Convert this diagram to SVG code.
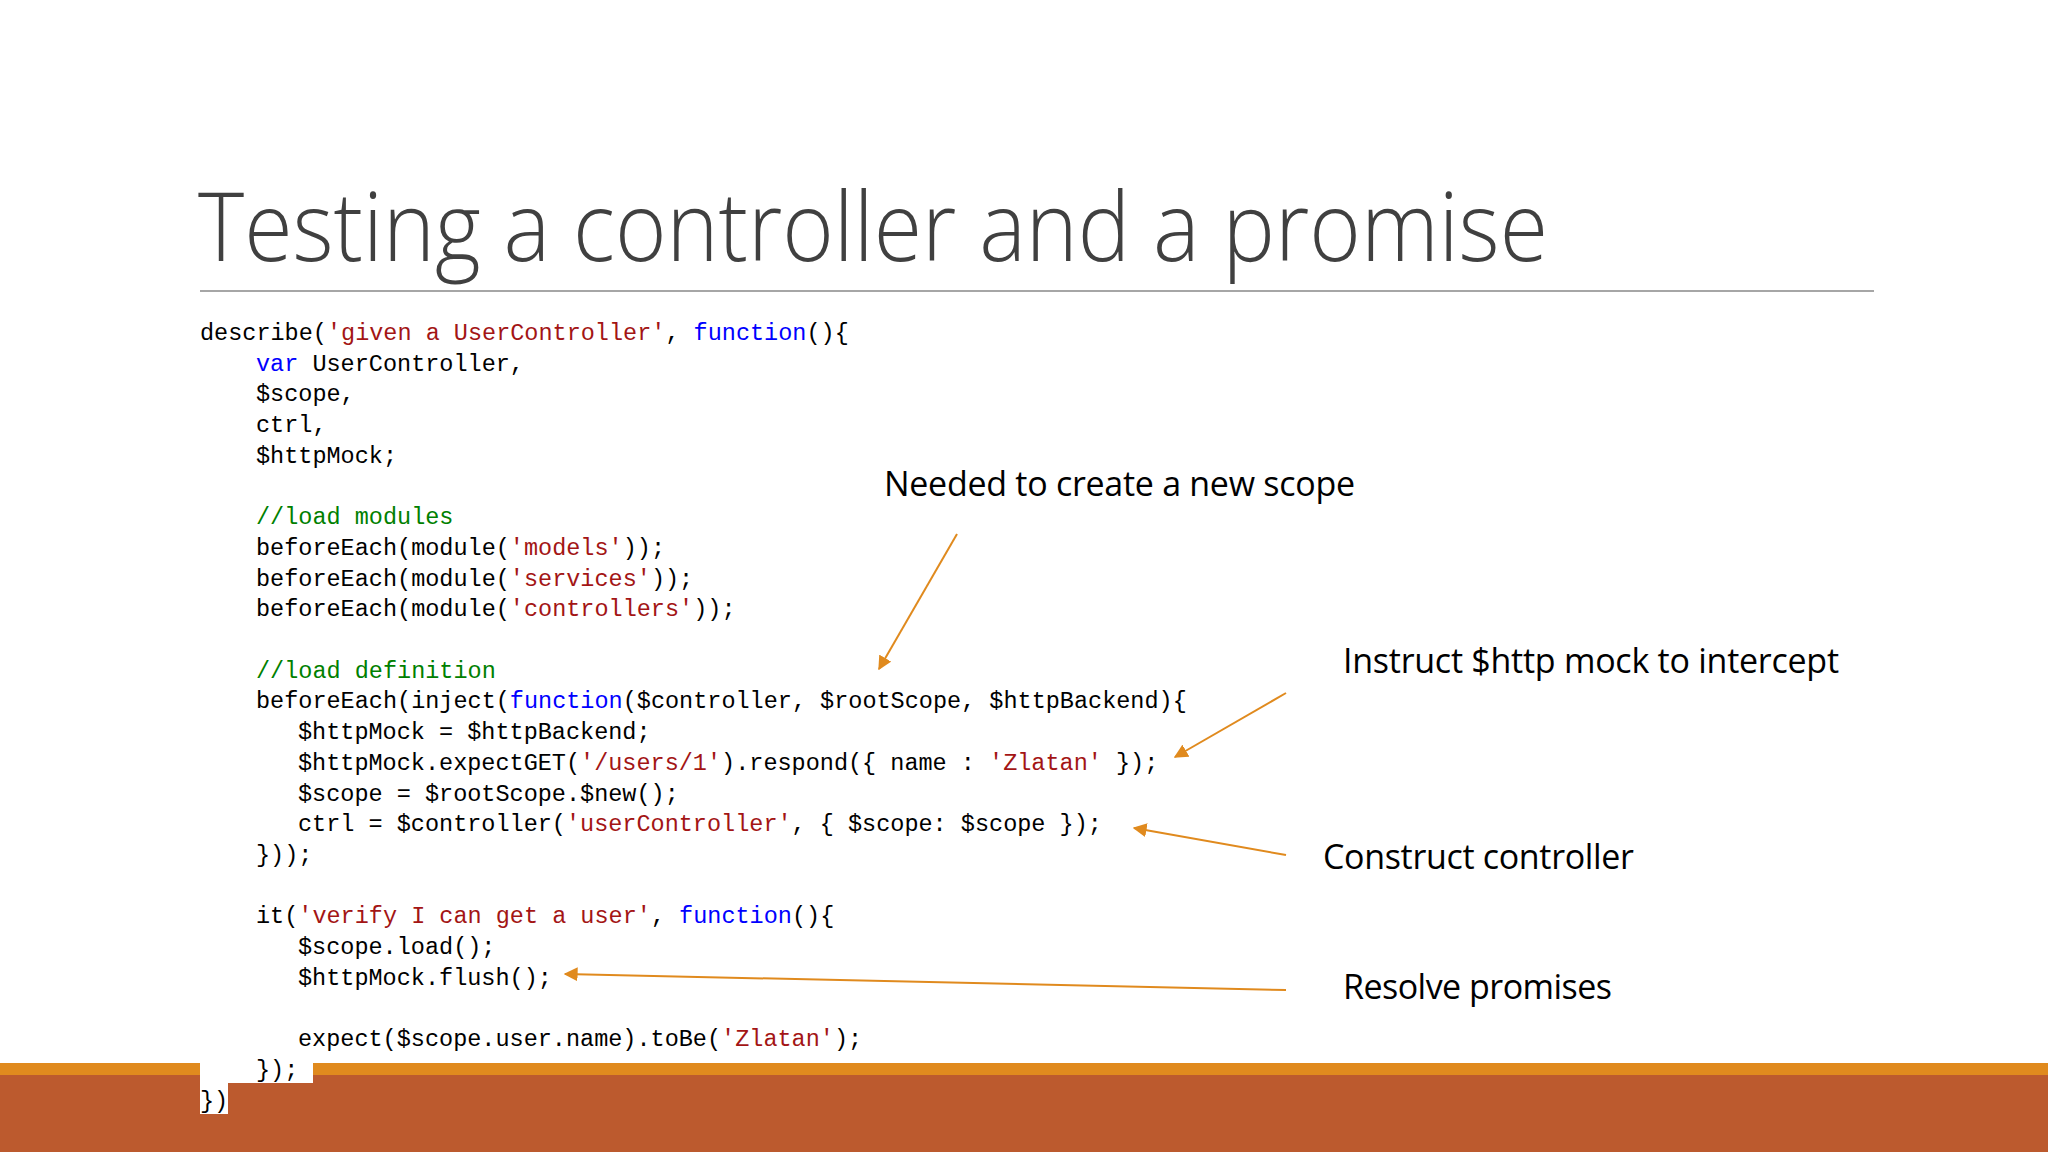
<svg xmlns="http://www.w3.org/2000/svg" width="2048" height="1152" viewBox="0 0 2048 1152">
<defs>
<style>
.c{font-family:"Liberation Mono","DejaVu Sans Mono",monospace;font-size:23.5px;fill:#000;white-space:pre}
.s{fill:#A31515}.k{fill:#0000FF}.g{fill:#008000}
.a{font-family:"Open Sans","Liberation Sans",sans-serif;font-size:34px;fill:#000}
.ar{stroke:#E08A1E;stroke-width:2;fill:none;marker-end:url(#h)}
</style>
<marker id="h" viewBox="0 0 10 10" refX="9" refY="5" markerWidth="7" markerHeight="7" orient="auto"><path d="M0,0L10,5L0,10z" fill="#E08A1E"/></marker>
</defs>
<rect width="2048" height="1152" fill="#fff"/>
<rect x="0" y="1063" width="2048" height="12" fill="#E08A1E"/>
<rect x="0" y="1075" width="2048" height="77" fill="#BC5A2E"/>
<rect x="200" y="1060" width="113" height="23" fill="#fff"/>
<rect x="200" y="1083" width="28" height="31" fill="#fff"/>
<g id="title"><text x="198" y="261" font-family="Open Sans,Liberation Sans,sans-serif" font-size="96" font-weight="300" fill="#404040" textLength="1350" lengthAdjust="spacingAndGlyphs">Testing a controller and a promise</text>
<line x1="200" y1="291" x2="1874" y2="291" stroke="#A6A6A6" stroke-width="2"/></g>
<g id="code">
<text class="c" x="200" y="340">describe(<tspan class="s">'given a UserController'</tspan>, <tspan class="k">function</tspan>(){</text>
<text class="c" x="256" y="370.7"><tspan class="k">var</tspan> UserController,</text>
<text class="c" x="256" y="401.4">$scope,</text>
<text class="c" x="256" y="432.1">ctrl,</text>
<text class="c" x="256" y="462.8">$httpMock;</text>
<text class="c g" x="256" y="524.2">//load modules</text>
<text class="c" x="256" y="554.9">beforeEach(module(<tspan class="s">'models'</tspan>));</text>
<text class="c" x="256" y="585.6">beforeEach(module(<tspan class="s">'services'</tspan>));</text>
<text class="c" x="256" y="616.3">beforeEach(module(<tspan class="s">'controllers'</tspan>));</text>
<text class="c g" x="256" y="677.7">//load definition</text>
<text class="c" x="256" y="708.4">beforeEach(inject(<tspan class="k">function</tspan>($controller, $rootScope, $httpBackend){</text>
<text class="c" x="298" y="739.1">$httpMock = $httpBackend;</text>
<text class="c" x="298" y="769.8">$httpMock.expectGET(<tspan class="s">'/users/1'</tspan>).respond({ name : <tspan class="s">'Zlatan'</tspan> });</text>
<text class="c" x="298" y="800.5">$scope = $rootScope.$new();</text>
<text class="c" x="298" y="831.2">ctrl = $controller(<tspan class="s">'userController'</tspan>, { $scope: $scope });</text>
<text class="c" x="256" y="861.9">}));</text>
<text class="c" x="256" y="923.3">it(<tspan class="s">'verify I can get a user'</tspan>, <tspan class="k">function</tspan>(){</text>
<text class="c" x="298" y="954">$scope.load();</text>
<text class="c" x="298" y="984.7">$httpMock.flush();</text>
<text class="c" x="298" y="1046.1">expect($scope.user.name).toBe(<tspan class="s">'Zlatan'</tspan>);</text>
<text class="c" x="256" y="1076.8">});</text>
<text class="c" x="200" y="1107.5">})</text>
</g>
<g id="n1"><text class="a" x="884" y="496" textLength="471">Needed to create a new scope</text></g>
<g id="n2"><text class="a" x="1343" y="673" textLength="496">Instruct $http mock to intercept</text></g>
<g id="n3"><text class="a" x="1323" y="869" textLength="311">Construct controller</text></g>
<g id="n4"><text class="a" x="1343" y="999" textLength="269">Resolve promises</text></g>
<g id="connectors">
<line class="ar" x1="957" y1="534" x2="879" y2="669"/>
<line class="ar" x1="1286" y1="693" x2="1175" y2="757"/>
<line class="ar" x1="1286" y1="855" x2="1134" y2="828"/>
<line class="ar" x1="1286" y1="990" x2="565" y2="974"/>
</g>
</svg>
